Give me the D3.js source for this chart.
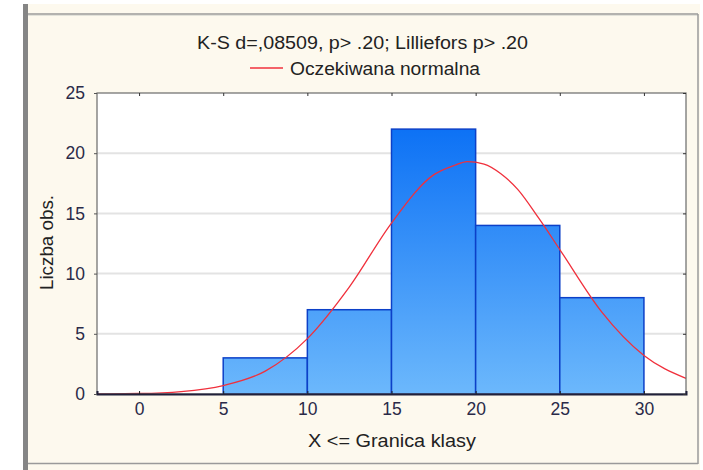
<!DOCTYPE html>
<html><head><meta charset="utf-8">
<script src="https://cdn.jsdelivr.net/npm/d3@7"></script>
<style>body{margin:0;background:#fff}svg{display:block}text{font-family:"Liberation Sans",Arial,sans-serif}</style>
</head><body><svg id="c" width="703" height="470"></svg>
<script>
// Histogram bins (upper class limits) and counts
const binStarts = [0, 5, 10, 15, 20, 25];
const binEnds   = [5, 10, 15, 20, 25, 30];
const counts    = [0, 3, 7, 22, 14, 8];
// Expected normal curve
const curveX = [-2.5, 0, 2.5, 5, 7.5, 10, 12.5, 15, 17.5, 18.75, 19.5, 20.5, 21.5, 22.5, 23.75, 25, 27.5, 30, 32.5];
const curveY = [0.01, 0.04, 0.2, 0.7, 1.9, 4.6, 8.9, 14.2, 18.2, 19.0, 19.3, 19.1, 18.3, 17.0, 14.6, 12.0, 6.8, 3.2, 1.3];
const xTicks = [0, 5, 10, 15, 20, 25, 30];
const yTicks = [0, 5, 10, 15, 20, 25];
const titleText = "K-S d=,08509, p> .20; Lilliefors p> .20";
const legendText = "Oczekiwana normalna";
const xLabel = "X <= Granica klasy";
const yLabel = "Liczba obs.";

const svg = d3.select("#c");
// frame
svg.append("rect").attr("x",23).attr("y",4).attr("width",677).attr("height",466).attr("fill","#fdf9ee");
svg.append("rect").attr("x",23).attr("y",4).attr("width",5).attr("height",466).attr("fill","#858585");
svg.append("line").attr("x1",28).attr("x2",698).attr("y1",14).attr("y2",14).attr("stroke","#9a9a9a").attr("stroke-width",1.5);
svg.append("line").attr("x1",28).attr("x2",698).attr("y1",15.5).attr("y2",15.5).attr("stroke","#e2e2da").attr("stroke-width",1);
svg.append("line").attr("x1",698).attr("x2",698).attr("y1",14).attr("y2",464).attr("stroke","#9a9a9a").attr("stroke-width",1.5);
svg.append("line").attr("x1",28).attr("x2",698).attr("y1",463.5).attr("y2",463.5).attr("stroke","#9a9a9a").attr("stroke-width",1.5);

const L=97, R=686, T=93, B=394;
const x = d3.scaleLinear().domain([-2.5, 32.5]).range([L, R]);
const y = d3.scaleLinear().domain([0, 25]).range([B, T]);

svg.append("rect").attr("x",L).attr("y",T).attr("width",R-L).attr("height",B-T).attr("fill","#fff");

// gridlines
svg.append("g").selectAll("line").data(yTicks.filter(d=>d>0 && d<25)).join("line")
  .attr("x1",L).attr("x2",R).attr("y1",d=>y(d)).attr("y2",d=>y(d))
  .attr("stroke","#e3e3e3").attr("stroke-width",2);

// gradient
const defs = svg.append("defs");
const g = defs.append("linearGradient").attr("id","bg").attr("gradientUnits","userSpaceOnUse")
  .attr("x1",0).attr("x2",0).attr("y1",T).attr("y2",B);
g.append("stop").attr("offset",0).attr("stop-color","#0068f4");
g.append("stop").attr("offset",1).attr("stop-color","#6cb8fc");

const bins = counts.map((c,i)=>({s:binStarts[i], e:binEnds[i], c}));
svg.append("g").selectAll("rect").data(bins.filter(d=>d.c>0)).join("rect")
  .attr("x",d=>x(d.s)).attr("width",d=>x(d.e)-x(d.s))
  .attr("y",d=>y(d.c)).attr("height",d=>y(0)-y(d.c))
  .attr("fill","url(#bg)").attr("stroke","#0c40c8").attr("stroke-width",1.5);

// curve
const pts = curveX.map((v,i)=>[v, curveY[i]]);
svg.append("path").datum(pts)
  .attr("d", d3.line().x(d=>x(d[0])).y(d=>y(d[1])).curve(d3.curveMonotoneX))
  .attr("fill","none").attr("stroke","#f0303c").attr("stroke-width",1.3);

// plot border
svg.append("rect").attr("x",L).attr("y",T).attr("width",R-L).attr("height",B-T)
  .attr("fill","none").attr("stroke","#6a6a6a").attr("stroke-width",1.2);

// axes
const xa = svg.append("g").attr("transform",`translate(0,${B})`)
  .call(d3.axisBottom(x).tickValues(xTicks).tickSize(-3).tickPadding(9).tickFormat(d3.format("d")));
xa.select(".domain").attr("stroke","#20203a").attr("stroke-width",2);
xa.selectAll("line").attr("stroke","#222");
xa.selectAll("text").attr("font-size",17.5).attr("fill","#2a2a48").attr("font-family","Liberation Sans, Arial")
  .attr("transform","scale(0.9,1)").attr("x",function(d){return 0;});
xa.selectAll(".tick text").attr("transform",null).style("font-stretch","condensed");

const xt = svg.append("g").attr("transform",`translate(0,${T})`)
  .call(d3.axisTop(x).tickValues(xTicks).tickSize(-3).tickFormat(""));
xt.select(".domain").remove(); xt.selectAll("line").attr("stroke","#333");

const ya = svg.append("g").attr("transform",`translate(${L},0)`)
  .call(d3.axisLeft(y).tickValues(yTicks).tickSize(3).tickPadding(9));
ya.select(".domain").remove();
ya.selectAll("line").attr("stroke","#555");
ya.selectAll("text").attr("font-size",17.5).attr("fill","#2a2a48").attr("font-family","Liberation Sans, Arial");

const yr = svg.append("g").attr("transform",`translate(${R},0)`)
  .call(d3.axisRight(y).tickValues(yTicks).tickSize(-3).tickFormat(""));
yr.select(".domain").remove(); yr.selectAll("line").attr("stroke","#333");

// texts
function txt(x0,y0,s,len,anchor){
  return svg.append("text").attr("x",x0).attr("y",y0).attr("text-anchor",anchor||"start")
    .attr("font-size",17.5).attr("fill","#222").attr("textLength",len).attr("lengthAdjust","spacingAndGlyphs").text(s);
}
txt(197,49,titleText,331);
svg.append("line").attr("x1",250).attr("x2",283).attr("y1",68).attr("y2",68).attr("stroke","#f0303c").attr("stroke-width",1.5);
txt(290,75,legendText,190);
txt(308,447,xLabel,168);
svg.append("text").attr("transform","translate(53,290) rotate(-90)").attr("text-anchor","start")
  .attr("font-size",17.5).attr("fill","#222").attr("textLength",95).attr("lengthAdjust","spacingAndGlyphs").text(yLabel);
</script></body></html>
